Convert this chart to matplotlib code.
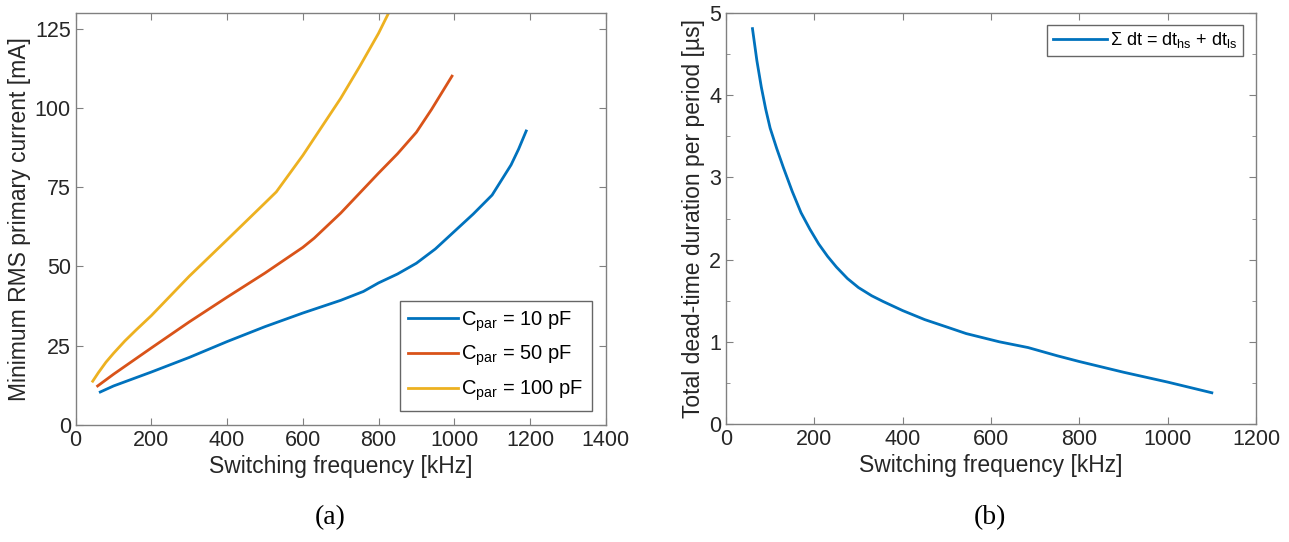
"""Minimum RMS current and total dead-time vs. switching frequency (a)/(b)."""

import matplotlib

matplotlib.use("Agg")
import matplotlib.pyplot as plt
from matplotlib.ticker import MultipleLocator

plt.rcParams["font.family"] = ["Liberation Sans", "DejaVu Sans"]
plt.rcParams["mathtext.fontset"] = "custom"
plt.rcParams["mathtext.rm"] = "Liberation Sans"
plt.rcParams["mathtext.it"] = "Liberation Sans"

# (a) minimum RMS primary current [mA] vs switching frequency [kHz]
f_10pf = [65, 100, 200, 300, 400, 500, 600, 700, 760, 800, 850, 900, 950, 1000, 1050, 1100,
          1150, 1170, 1190]
i_10pf = [10.4, 12.3, 16.7, 21.3, 26.3, 31.0, 35.3, 39.3, 42.1, 44.8, 47.6, 51.0, 55.5, 61.0,
          66.5, 72.5, 82.0, 87.0, 92.7]

f_50pf = [58, 100, 200, 300, 400, 500, 600, 630, 700, 800, 850, 900, 940, 994]
i_50pf = [12.3, 16.0, 24.3, 32.5, 40.3, 47.9, 56.0, 58.9, 66.8, 79.4, 85.5, 92.3, 99.5, 110.0]

f_100pf = [45, 60, 80, 100, 130, 160, 200, 300, 400, 500, 530, 600, 700, 750, 800, 827]
i_100pf = [13.8, 16.5, 19.8, 22.6, 26.5, 30.0, 34.5, 46.9, 58.4, 70.0, 73.5, 85.0, 103.0,
           113.0, 123.5, 130.0]

labels_a = [r"C$_{\mathrm{par}}$ = 10 pF", r"C$_{\mathrm{par}}$ = 50 pF", r"C$_{\mathrm{par}}$ = 100 pF"]

# (b) total dead-time per period [us]
f_dt = [60, 70, 80, 90, 100, 115, 130, 150, 170, 190, 210, 230, 250, 275, 300, 330, 356,
        400, 450, 500, 544, 619, 684, 750, 800, 900, 1000, 1100]
t_dt = [4.81, 4.42, 4.1, 3.83, 3.6, 3.35, 3.12, 2.83, 2.57, 2.37, 2.19, 2.04, 1.91, 1.77,
        1.66, 1.56, 1.49, 1.38, 1.27, 1.18, 1.1, 1.0, 0.93, 0.83, 0.76, 0.63, 0.51, 0.38]

colors = ["#0072BD", "#D95319", "#EDB120"]
axis_col = "#262626"


def matlab_box(ax):
    for s in ax.spines.values():
        s.set_color("#808080")
        s.set_linewidth(1.0)
    ax.tick_params(which="both", direction="in", top=True, right=True,
                   colors="#808080", labelcolor=axis_col, labelsize=15.5)
    ax.tick_params(which="major", length=5)
    ax.tick_params(which="minor", length=3)


fig = plt.figure(figsize=(12.89, 5.42), dpi=100)

# ---- (a)
ax1 = fig.add_axes([0.0587, 0.2159, 0.4112, 0.7607])
for f, i, c, lab in zip([f_10pf, f_50pf, f_100pf], [i_10pf, i_50pf, i_100pf], colors, labels_a):
    ax1.plot(f, i, color=c, lw=2.0, label=lab)
ax1.set_xlim(0, 1400)
ax1.set_ylim(0, 130)
ax1.set_xticks(range(0, 1401, 200))
ax1.set_yticks(range(0, 126, 25))
ax1.set_xlabel("Switching frequency [kHz]", fontsize=16.5, color=axis_col, labelpad=3)
ax1.set_ylabel("Minimum RMS primary current [mA]", fontsize=16.5, color=axis_col, labelpad=3)
matlab_box(ax1)
leg1 = ax1.legend(loc="lower right", fontsize=14.5, frameon=True, fancybox=False,
                  handlelength=2.5, handletextpad=0.15, labelspacing=0.5,
                  borderpad=0.4, borderaxespad=0.0, bbox_to_anchor=(0.974, 0.034))
leg1.get_frame().set_edgecolor("#404040")
leg1.get_frame().set_linewidth(1.0)

# ---- (b)
ax2 = fig.add_axes([0.5632, 0.2177, 0.4112, 0.7583])
ax2.plot(f_dt, t_dt, color=colors[0], lw=2.0,
         label=r"$\Sigma$ dt = dt$_{\mathrm{hs}}$ + dt$_{\mathrm{ls}}$")
ax2.set_xlim(0, 1200)
ax2.set_ylim(0, 5)
ax2.set_xticks(range(0, 1201, 200))
ax2.set_yticks(range(0, 6))
ax2.yaxis.set_minor_locator(MultipleLocator(0.5))
ax2.set_xlabel("Switching frequency [kHz]", fontsize=16.5, color=axis_col, labelpad=3)
ax2.set_ylabel("Total dead-time duration per period [\u00b5s]", fontsize=16.5, color=axis_col,
               labelpad=3)
matlab_box(ax2)
leg2 = ax2.legend(loc="upper right", fontsize=13, frameon=True, fancybox=False,
                  handlelength=3.0, handletextpad=0.2, borderpad=0.3, borderaxespad=0.0,
                  bbox_to_anchor=(0.975, 0.971))
leg2.get_frame().set_edgecolor("#404040")
leg2.get_frame().set_linewidth(1.0)

# captions
fig.text(0.256, 0.045, "(a)", fontsize=20, family="Liberation Serif", ha="center", va="center")
fig.text(0.768, 0.045, "(b)", fontsize=20, family="Liberation Serif", ha="center", va="center")

fig.savefig("out.png", dpi=100)
